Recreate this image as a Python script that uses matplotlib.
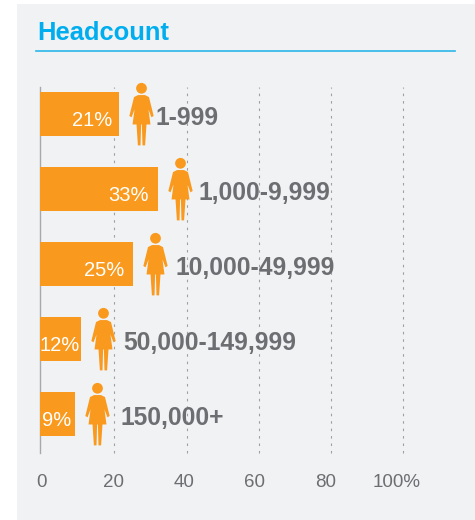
#!/usr/bin/env python3

import matplotlib
matplotlib.use('Agg')
import matplotlib.pyplot as plt
from matplotlib.path import Path
from matplotlib.patches import Rectangle
from matplotlib.transforms import Affine2D

plt.rcParams['font.family'] = ['Liberation Sans', 'DejaVu Sans']

# bar lengths as drawn, they run a bit off the printed percentages
bar_values = [21.3, 32.1, 25.2, 10.8, 9.1]
pct_labels = ['21%', '33%', '25%', '12%', '9%']
headcount = ['1-999', '1,000-9,999', '10,000-49,999', '50,000-149,999', '150,000+']
ticks = [0, 20, 40, 60, 80, 100]
tick_labels = ['0', '20', '40', '60', '80', '100%']

# pixel nudges, the original layout is hand placed
pct_gap = [7, 9, 9, 1, 4]
label_gap = [37, 41, 42, 42, 46]
tick_shift = [-0.3, -1.2, -2.6, -4, -5.3, -6.5]

W, H = 475, 520
ORANGE = '#f99a1e'
BLUE = '#00aeef'
GREY = '#6d6e71'
X0, X100 = 42, 403.3    # pixel position of 0 and 100 on the scale
AXIS_X = 39.5

# woman icon, centred on 0,0 with y up, one unit is one pixel
head = Path.circle((0, 26.3), 5.4)
body = Path([(-3.5, 19.5), (3.5, 19.5), (7.5, 17.5), (12.2, -1.5), (10, -2.8), (7, 5),
             (9, -10), (5, -10), (3.6, -31), (1.0, -31), (0.4, -10), (-0.4, -10),
             (-1.0, -31), (-3.6, -31), (-5, -10), (-9, -10), (-7, 5), (-10, -2.8),
             (-12.2, -1.5), (-7.5, 17.5), (-3.5, 19.5)], closed=True)
woman = Path.make_compound_path(head, body)


def main():
    fig = plt.figure(figsize=(W / 100, H / 100), dpi=100, facecolor='white')
    fig.add_artist(Rectangle((17 / W, 0), 1, 1 - 4 / H, transform=fig.transFigure,
                             facecolor='#f1f2f4', edgecolor='none', zorder=-5))

    fig.text(37 / W, 1 - 40 / H, 'Headcount', color=BLUE, fontsize=18.4,
             fontweight='bold', ha='left', va='baseline')
    fig.add_artist(plt.Line2D([36 / W, 455 / W], [1 - 51 / H, 1 - 51 / H], color='#29b6e8', lw=1.2))

    ax = fig.add_axes([X0 / W, 1 - 453 / H, (X100 - X0) / W, (453 - 87) / H])
    ax.patch.set_alpha(0)
    ax.set_xlim(0, 100)
    ax.set_ylim(4.52, -0.36)

    px = (X100 - X0) / 100
    start = (40 - X0) / px
    ys = list(range(len(bar_values)))
    ax.barh(ys, [v - start for v in bar_values], left=start, height=0.587,
            color=ORANGE, zorder=3, clip_on=False)
    ax.plot([v + 21.7 / px for v in bar_values], ys, linestyle='none', marker=woman,
            markersize=45.5, color=ORANGE, markeredgewidth=0, zorder=3, clip_on=False)

    for y, v, pct, pgap, name, gap in zip(ys, bar_values, pct_labels, pct_gap, headcount, label_gap):
        ax.annotate(pct, (v, y), xytext=(-pgap, -6.5), textcoords='offset pixels', color='white',
                    fontsize=14.5, ha='right', va='center', zorder=4)
        ax.annotate(name, (v, y), xytext=(gap, -4), textcoords='offset pixels', color=GREY,
                    fontsize=17.7, fontweight='bold', ha='left', va='center', zorder=4)

    ax.set_xticks(ticks)
    ax.set_xticklabels(tick_labels, color=GREY, fontsize=13.5)
    ax.set_yticks([])
    ax.tick_params(length=0, pad=15)
    ax.grid(axis='x', color='#a0a1a3', linestyle=(0, (2.3, 4.4)), lw=0.8, zorder=1)
    ax.xaxis.get_gridlines()[0].set_visible(False)
    for line in ax.xaxis.get_gridlines():
        line.set_clip_on(False)
    for label, dx in zip(ax.get_xticklabels(), tick_shift):
        label.set_transform(label.get_transform() + Affine2D().translate(dx, 0))

    for s in ['top', 'right', 'bottom']:
        ax.spines[s].set_visible(False)
    ax.spines['left'].set_position(('outward', (X0 - AXIS_X) * 0.72))
    ax.spines['left'].set_color('#a7a9ac')
    ax.spines['left'].set_linewidth(1)

    fig.savefig('out.png', dpi=100, facecolor='white')


if __name__ == '__main__':
    main()
